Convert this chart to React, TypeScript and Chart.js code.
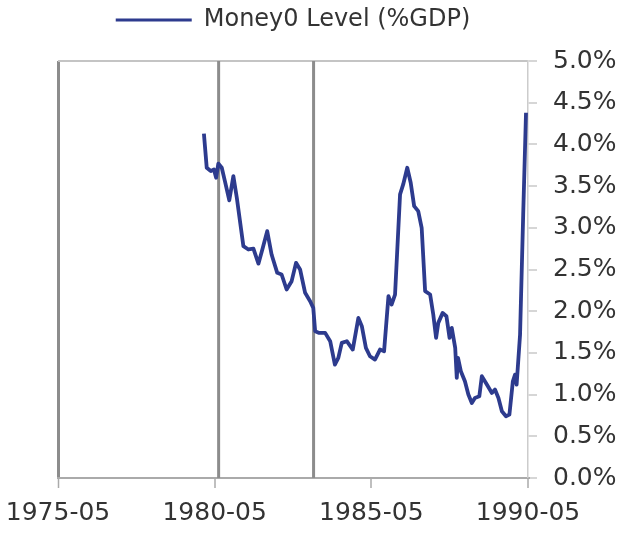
import React, { useEffect, useRef } from "react";
import { Chart, registerables } from "chart.js";

Chart.register(...registerables);

const seriesLabel = "Money0 Level (%GDP)";

const dates = [
  1979.99, 1980.08, 1980.21, 1980.31, 1980.38, 1980.45, 1980.56, 1980.66, 1980.8, 1980.93,
  1981.04, 1981.25, 1981.41, 1981.57, 1981.73, 1981.87, 1982.01, 1982.15, 1982.33, 1982.47,
  1982.63, 1982.79, 1982.93, 1983.06, 1983.22, 1983.38, 1983.48, 1983.54, 1983.67, 1983.86,
  1984.02, 1984.17, 1984.28, 1984.39, 1984.55, 1984.74, 1984.92, 1985.03, 1985.16, 1985.29,
  1985.45, 1985.61, 1985.74, 1985.88, 1985.98, 1986.09, 1986.25, 1986.35, 1986.48, 1986.59,
  1986.7, 1986.83, 1986.94, 1987.05, 1987.21, 1987.31, 1987.4, 1987.47, 1987.61, 1987.73,
  1987.83, 1987.9, 1988.01, 1988.06, 1988.1, 1988.19, 1988.32, 1988.43, 1988.54, 1988.64,
  1988.78, 1988.86, 1989.02, 1989.18, 1989.28, 1989.39, 1989.5, 1989.63, 1989.74, 1989.85,
  1989.92, 1989.97, 1990.08, 1990.18, 1990.27,
];

const values = [
  4.13, 3.72, 3.68, 3.7, 3.6, 3.77, 3.72, 3.56, 3.33, 3.62,
  3.36, 2.78, 2.74, 2.75, 2.57, 2.76, 2.96, 2.68, 2.46, 2.44,
  2.26, 2.36, 2.58, 2.5, 2.22, 2.12, 2.04, 1.76, 1.74, 1.74,
  1.64, 1.36, 1.44, 1.62, 1.64, 1.54, 1.92, 1.82, 1.56, 1.46,
  1.42, 1.54, 1.52, 2.18, 2.08, 2.2, 3.4, 3.52, 3.72, 3.54,
  3.26, 3.2, 3.0, 2.24, 2.2, 1.96, 1.68, 1.86, 1.98, 1.94,
  1.68, 1.8, 1.56, 1.2, 1.44, 1.28, 1.16, 1.0, 0.9, 0.96,
  0.98, 1.22, 1.12, 1.02, 1.06, 0.96, 0.8, 0.74, 0.76, 1.16,
  1.24, 1.12, 1.72, 3.16, 4.38,
];

const xTickValues = [1975 + 4 / 12, 1980 + 4 / 12, 1985 + 4 / 12, 1990 + 4 / 12];
const xTickLabels = ["1975-05", "1980-05", "1985-05", "1990-05"];
const yTickValues = [0, 0.5, 1, 1.5, 2, 2.5, 3, 3.5, 4, 4.5, 5];
const yTickLabels = ["0.0%", "0.5%", "1.0%", "1.5%", "2.0%", "2.5%", "3.0%", "3.5%", "4.0%", "4.5%", "5.0%"];
const eventDates = [1980.46, 1983.49];

const LINE_COLOR = "#2d3b8e";
const FONT = "'DejaVu Sans', sans-serif";
const TEXT = "#333333";

const eventLinesPlugin = {
  id: "eventLines",
  beforeDatasetsDraw(chart: any) {
    const { ctx, chartArea, scales } = chart;
    ctx.save();
    ctx.strokeStyle = "#8c8c8c";
    ctx.lineWidth = 3;
    eventDates.forEach((d) => {
      const x = scales.x.getPixelForValue(d);
      ctx.beginPath();
      ctx.moveTo(x, chartArea.top);
      ctx.lineTo(x, chartArea.bottom);
      ctx.stroke();
    });
    ctx.restore();
  },
};

const legendSpacer = {
  id: "legendSpacer",
  beforeInit(chart: any) {
    const legend = chart.legend;
    if (!legend) return;
    const origFit = legend.fit;
    legend.fit = function () {
      origFit.bind(legend)();
      this.height += 19;
    };
  },
};

export default function App() {
  const ref = useRef<HTMLCanvasElement>(null);

  useEffect(() => {
    if (!ref.current) return;
    const chart = new Chart(ref.current, {
      type: "line",
      data: {
        datasets: [
          {
            label: seriesLabel,
            data: dates.map((d, i) => ({ x: d, y: values[i] })),
            borderColor: LINE_COLOR,
            backgroundColor: LINE_COLOR,
            borderWidth: 3.8,
            pointRadius: 0,
            tension: 0,
            borderJoinStyle: "round",
          },
        ],
      },
      options: {
        responsive: false,
        animation: false,
        layout: { padding: { left: 58, right: 0, top: 0, bottom: 0 } },
        plugins: {
          tooltip: { enabled: false },
          legend: {
            display: true,
            position: "top",
            fullSize: false,
            labels: {
              boxWidth: 76,
              boxHeight: 3,
              padding: 8,
              color: TEXT,
              font: { family: FONT, size: 24 },
              generateLabels: (chart: any) =>
                chart.data.datasets.map((ds: any, i: number) => ({
                  text: ds.label,
                  fillStyle: ds.borderColor,
                  strokeStyle: ds.borderColor,
                  lineWidth: 0,
                  hidden: false,
                  datasetIndex: i,
                  fontColor: TEXT,
                })),
            },
          },
        },
        scales: {
          x: {
            type: "linear",
            min: xTickValues[0],
            max: xTickValues[xTickValues.length - 1],
            afterBuildTicks: (scale: any) => {
              scale.ticks = xTickValues.map((v) => ({ value: v }));
            },
            afterFit: (scale: any) => {
              scale.height = 57;
              scale.paddingLeft = 0;
              scale.paddingRight = 0;
            },
            ticks: {
              autoSkip: false,
              maxRotation: 0,
              padding: 10,
              color: TEXT,
              font: { family: FONT, size: 25 },
              callback: (_v: any, i: number) => xTickLabels[i],
            },
            grid: {
              drawOnChartArea: true,
              drawTicks: true,
              tickLength: 10,
              tickColor: "#aaaaaa",
              tickWidth: 1.5,
              color: (ctx: any) => (ctx.index === 0 ? "#8c8c8c" : "rgba(0,0,0,0)"),
              lineWidth: (ctx: any) => (ctx.index === 0 ? 3 : 0),
            },
            border: { display: true, color: "#aaaaaa", width: 2 },
          },
          y: {
            type: "linear",
            position: "right",
            min: 0,
            max: 5,
            afterBuildTicks: (scale: any) => {
              scale.ticks = yTickValues.map((v) => ({ value: v }));
            },
            afterFit: (scale: any) => {
              scale.width = 98;
            },
            ticks: {
              padding: 16,
              color: TEXT,
              font: { family: FONT, size: 25 },
              callback: (_v: any, i: number) => yTickLabels[i],
            },
            grid: {
              drawOnChartArea: true,
              drawTicks: true,
              tickLength: 9,
              tickColor: "#c8c8c8",
              tickWidth: 1.5,
              color: (ctx: any) => (ctx.tick && ctx.tick.value === 5 ? "#c4c4c4" : "rgba(0,0,0,0)"),
              lineWidth: (ctx: any) => (ctx.tick && ctx.tick.value === 5 ? 2 : 0),
            },
            border: { display: true, color: "#cccccc", width: 1.5 },
          },
        },
      },
      plugins: [legendSpacer, eventLinesPlugin],
    } as any);
    return () => chart.destroy();
  }, []);

  return (
    <div style={{ position: "absolute", left: 0, top: 0, width: 626, height: 535, background: "#fff" }}>
      <canvas ref={ref} width={626} height={535} />
    </div>
  );
}
